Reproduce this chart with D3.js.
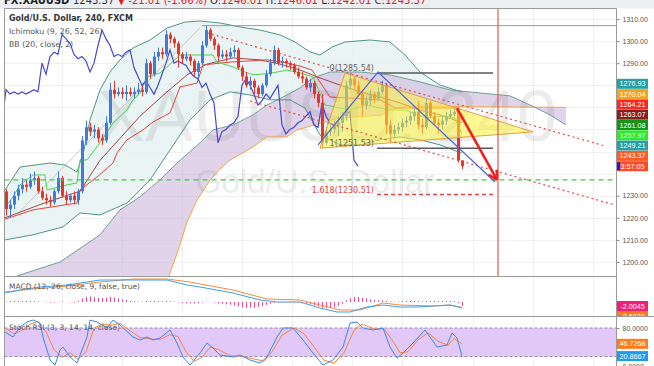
<!DOCTYPE html>
<html><head><meta charset="utf-8">
<script src="https://cdn.jsdelivr.net/npm/d3@7"></script>
<style>body{margin:0;background:#fff;}svg{display:block;}</style>
</head><body><svg id="c" width="654" height="366"></svg>
<script>
// ---------- DATA ----------
const opens=[1232,1224,1226,1230,1233,1235,1234,1237,1238,1232,
1229,1228,1227,1232,1238,1230,1228,1230,1228,1232,
1255,1261,1259,1260,1256,1255,1263,1278,1276,1277,
1276,1277,1276,1277,1278,1277,1290,1285,1293,1295,
1294,1303,1301,1299,1294,1292,1293,1291,1286,1290,
1298,1305,1301,1298,1293,1294,1293,1295,1296,1288,
1284,1280,1282,1279,1276,1280,1285,1290,1296,1290,
1291,1290,1289,1286,1284,1283,1279,1281,1276,1272,
1254,1259,1260,1262,1263,1266,1280,1283,1280,1276,
1271,1273,1276,1274,1277,1280,1262,1258,1260,1261,
1263,1264,1266,1268,1262,1261,1272,1266,1263,1262,
1264,1266,1267,1268,1246.01];
const highs=[1233,1228,1232,1235,1238,1237,1240,1241,1239,1234,
1231,1230,1233,1241,1239,1232,1231,1232,1233,1257,
1264,1263,1262,1261,1258,1266,1281,1282,1279,1279,
1280,1279,1279,1281,1280,1292,1291,1295,1297,1297,
1305,1304,1302,1300,1295,1295,1294,1292,1291,1300,
1307,1306,1302,1299,1296,1296,1297,1298,1297,1289,
1286,1284,1283,1280,1281,1287,1292,1298,1297,1293,
1292,1291,1290,1288,1286,1284,1283,1282,1277,1276,
1261,1263,1264,1266,1268,1282,1285.5,1284,1282,1277,
1275,1278,1277,1279,1282,1281,1264,1262,1263,1265,
1266,1268,1270,1273,1265,1274,1273,1268,1265,1266,
1268,1269,1270,1270,1246.01];
const lows=[1221,1220,1224,1228,1231,1232,1233,1235,1231,1228,
1226,1225,1226,1231,1229,1226,1227,1226,1226,1231,
1253,1257,1256,1254,1253,1254,1262,1274,1275,1274,
1273,1275,1274,1276,1275,1276,1283,1284,1291,1292,
1293,1299,1297,1288,1290,1291,1289,1284,1283,1289,
1297,1300,1296,1291,1292,1291,1292,1293,1287,1282,
1279,1278,1276,1274,1275,1279,1284,1289,1289,1288,
1288,1287,1285,1283,1281,1278,1277,1274,1270,1251.5,
1253,1257,1258,1257,1259,1264,1278,1278,1275,1266,
1269,1271,1272,1273,1276,1258,1255,1256,1258,1259,
1261,1262,1264,1260,1258,1260,1265,1262,1258,1260,
1262,1265,1266,1245,1242.01];
const closes=[1224,1226,1230,1233,1235,1234,1237,1238,1232,1229,
1228,1227,1232,1238,1230,1228,1230,1228,1232,1255,
1261,1259,1260,1256,1255,1263,1278,1276,1277,1276,
1277,1276,1277,1278,1277,1290,1285,1293,1295,1294,
1303,1301,1299,1294,1292,1293,1291,1286,1290,1298,
1305,1301,1298,1293,1294,1293,1295,1296,1288,1284,
1280,1282,1279,1276,1280,1285,1290,1296,1290,1291,
1290,1289,1286,1284,1283,1279,1281,1276,1272,1254,
1259,1260,1262,1263,1266,1280,1283,1280,1276,1271,
1273,1276,1274,1277,1280,1262,1258,1260,1261,1263,
1264,1266,1268,1262,1261,1272,1266,1263,1262,1264,
1266,1267,1268,1246,1243.37];

// indicator lines: [bar, value]
const tenkan=[[-0.75,1223.6],[1.75,1229.5],[3.5,1234.9],[6.75,1239.4],[9.75,1239.4],[10.25,1232.6],[15.25,1234.9],[17.75,1235.8],[18.5,1246.2],[20.25,1246.2],[23.5,1253.9],[26.75,1262.9],[30.25,1268.8],[31.75,1273.4],[33.5,1276.5],[35.25,1283.8],[38.5,1285.6],[40.25,1288.3],[43.5,1293.7],[51.75,1293.7],[52.75,1290.5],[56.75,1288.3],[59.75,1286],[61.75,1284.7],[66.75,1285.6],[70.25,1286.9],[73.5,1285.6],[76.75,1283.8],[79.75,1271.1],[86,1268.8],[90,1271.1],[96,1268.8],[99.75,1268.8],[105,1265.2],[109.75,1266.1],[112.25,1265.2],[114,1257.97]];
const kijun=[[-0.75,1219.1],[6.75,1223.6],[17.75,1226.7],[18.5,1232.6],[22.75,1238.5],[26.75,1244.8],[27.75,1249.4],[30.25,1255.3],[34.25,1259.8],[36.75,1263.4],[41,1267.5],[43.5,1279.2],[47.75,1281],[49.25,1289.2],[56,1290.5],[65.25,1291.5],[70.25,1290.1],[73.5,1288.7],[76.5,1286.9],[81,1274.7],[93.5,1273.4],[97.25,1269.7],[112.25,1269.7],[114,1264.21]];
const spanA=[[2.75,1193.7],[13.5,1200],[23.5,1212.3],[28.5,1223.6],[33.5,1229.5],[38.5,1237.2],[42.75,1244.8],[48.5,1253.9],[51.75,1259.8],[56.75,1262],[61.75,1266.6],[65.25,1271.1],[70.25,1275.6],[73.5,1278.8],[76.75,1283.3],[81,1286],[88.5,1286],[96,1284.7],[103.5,1281.5],[111,1277.9],[118.5,1276.5],[126,1275.2],[131,1271.1],[136,1266.6],[140,1262]];
const spanB=[[2.75,1170],[38,1180],[43,1205],[45.25,1218],[47.75,1228],[51,1237],[53.5,1242],[56,1246.2],[59.25,1249.4],[61.75,1252.1],[65.25,1256.6],[70.25,1256.6],[72.75,1259.8],[75.25,1261.1],[78.5,1262.9],[83.5,1265.2],[94,1266.5],[96,1269],[100,1270.5],[140,1270]];
const bbUpper=[[-0.25,1232.6],[3.5,1243],[11,1244.8],[14.75,1243.9],[17.75,1240.8],[19.5,1250.7],[21,1264.3],[23.5,1277.9],[26,1286],[28.5,1291.5],[31.75,1296.9],[36,1300.5],[40.25,1305.9],[44.75,1308.6],[48.5,1309.1],[53.5,1308.2],[58.5,1306.4],[63.5,1305],[68.5,1302.8],[72.25,1299.6],[76,1295.1],[78.5,1293.7],[81.5,1297.3],[84.75,1299.6],[91,1300.5],[96,1299.6],[99.75,1293.7],[103.5,1286],[108.5,1280.1],[114,1276.93]];
const bbLower=[[-0.25,1210],[6.75,1212.3],[14.25,1215.9],[18.5,1222.2],[23.5,1221.3],[30.25,1226.7],[36,1237.2],[41,1250.7],[46,1264.3],[51,1273.4],[56,1277],[61,1275.6],[66,1273.4],[71,1273.4],[74.75,1269.7],[78.5,1257.5],[83.5,1253],[88.5,1253],[93.5,1255.3],[98.5,1256.6],[103.5,1255.3],[108.5,1253],[114,1249.21]];
const bbBasis=[[-0.25,1220],[8.5,1226],[15,1230],[18.5,1232],[23.5,1246],[28.5,1256],[33.5,1266],[40.25,1277],[45.25,1284.7],[50.25,1289.6],[56.75,1292.4],[63.5,1291.5],[68.5,1289.6],[73.5,1286.9],[78.5,1283.3],[83.5,1280.1],[88.5,1277],[93.5,1274.7],[98.5,1272],[103.5,1268.8],[108.5,1266.6],[114,1263.07]];

// MACD
const macdLine=[[-0.25,4.5],[3.5,6],[8.5,7.5],[15.25,8.5],[23.5,11],[31.75,11],[40.25,11],[45.25,8.5],[48.5,7.5],[56.75,4.5],[63.5,1],[67.75,0],[73.5,0],[78.5,-3],[82.75,-5],[86,-5],[90.25,-2.5],[94.25,-1.5],[98.5,-2.5],[102.75,-2.5],[106.75,-2],[111,-1.5],[114,-3]];
const macdSignal=[[-0.25,5],[6.75,6.5],[15.25,8],[23.5,10],[31.75,11.5],[40.25,11.5],[46,10],[48.5,9],[56.75,6],[65.25,1.5],[73.5,1],[78.5,-1.5],[83.5,-4],[88.5,-4],[94.25,-0.5],[98.5,-1.5],[106.75,-2],[111,-1.5],[114,-2.7]];
const macdHist=[0.3,0.4,0.5,0.5,0.6,0.5,0.4,0.4,0.3,
0.1,-0.2,-0.3,-0.3,0.2,0.3,-0.1,-0.2,-0.3,
0.6,1.8,2.6,2.8,2.5,2.2,2.0,2.2,2.6,2.3,1.8,1.4,1.0,
0.6,0.4,0.3,0.2,0.6,0.5,0.5,0.4,0.3,0.5,0.4,0.2,
-0.2,-0.4,-0.5,-0.6,-0.8,-0.6,-0.3,0.2,0.1,-0.3,-0.6,-0.9,-1.1,-1.3,
-1.8,-2.2,-2.6,-2.9,-2.8,-2.9,-2.6,-2.0,-1.4,-0.8,
-0.4,-0.3,-0.2,-0.2,-0.3,-0.4,-0.5,-0.6,-0.8,
-1.2,-1.6,-2.2,-3.0,-3.2,-3.0,-2.6,-2.0,
-0.8,0.8,1.8,2.4,2.5,2.2,1.8,1.4,1.0,
0.8,0.8,0.6,0.3,0.2,0.3,0.4,0.5,0.6,0.6,0.4,0.3,
0.5,0.6,0.5,0.4,0.5,0.6,0.5,0.4,-0.6,-2.0];

// Stoch RSI
const stochK=[[-0.25,71.6],[1.75,61],[3.5,82],[5.25,92.6],[6.75,96.8],[8.5,90.5],[9.25,61],[11,12.6],[12.25,2],[13.5,33.7],[14.25,40],[16,18.9],[17.75,6.3],[20.25,61],[21,96.8],[22.75,92.6],[25.25,80],[26.75,96.8],[28.5,86.3],[31.75,61],[33.5,54.7],[35.25,61],[36.75,54.7],[38.5,58.9],[41,75.8],[42.75,48.4],[44.25,18.9],[46,2],[48.5,27.4],[50.25,48.4],[51.75,37.9],[53.5,23.2],[56.75,18.9],[58.5,23.2],[61,12.6],[63.5,6.3],[65.25,18.9],[67.75,61],[69.25,80],[71.75,80],[74.25,54.7],[76.75,27.4],[79.25,2],[81.75,12.6],[84.25,40],[86,90.5],[87.75,92.6],[89.25,80],[91.75,75.8],[94.25,80],[96,40],[97.75,16.8],[99.25,27.4],[101.75,48.4],[104.75,75.8],[107.75,40],[110.25,44.2],[111.5,69.5],[112.75,58.9],[114,20.8667]];
const stochD=[[-0.25,80],[2,68],[4,75],[6,88],[8,94],[10,72],[12,35],[14,18],[16,28],[18,14],[20,30],[22,80],[24,88],[26.5,86],[28.5,90],[31,74],[33.5,60],[36,57],[38.5,56],[41,66],[43,62],[45,30],[47,10],[49,18],[51,40],[53,35],[56,22],[59,20],[62,15],[64.5,10],[66.5,30],[69,65],[72,80],[74.5,68],[77,40],[79.5,12],[82,6],[84.5,28],[87,75],[89,88],[92,78],[94.5,78],[96.5,55],[98.5,28],[100.5,30],[103,55],[105.5,70],[108,52],[110.5,44],[112,58],[114,46.7268]];

// axis ticks & labels
const priceTicks=[1200,1210,1220,1230,1240,1250,1260,1270,1280,1290,1300,1310];
const gridBars=[14,29,44,59,71.5,86.5,99,116.75,131.75,146.75];
const priceTagValues=[1276.93,1270.04,1264.21,1263.07,1261.08,1257.97,1249.21,1243.37];
const priceTagColors=["#26a0a4","#f5a21f","#ff2424","#8c1c1c","#15941a","#2bea2b","#26a0a4","#ff5a26"];
const countdownText="3:57:05";
const macdTags=[-2.0045,-2.6830], macdTagColors=["#f0207a","#ff7a1a"];
const stochTags=[46.7268,20.8667], stochTagColors=["#ff7a1a","#1e9af0"];

// drawings (bar, price)
const peakLine=[[49,1307],[152.5,1307]];
const upperTrend=[[50.25,1303.7],[149.75,1252.5]];
const lowerTrend=[[61,1272.9],[152.25,1225.8]];
const triangle=[[84.75,1285.54],[78.5,1251.53],[131.75,1258.9]];
const fibLevels=[{label:"0(1285.54)",v:1285.54},{label:"1(1251.53)",v:1251.53},{label:"1.618(1230.51)",v:1230.51}];
const fibRange=[92.75,121.75];
const greenLevel=1237.2;
const blueZigzag=[[78,1253],[93,1286],[122.25,1236.2]];
const redArrow=[[112.75,1269.7],[122.75,1237.2]];
const cursorBar=123;
const faintDiag=[[3,1222],[48.5,1306]];

// ---------- DRAW ----------
const svg=d3.select("#c");
const L=4.5,R=616.5,T=8.5,MB=276.5,MCB=316.5,B=366;
const x=d3.scaleLinear().domain([0,152.5]).range([6,616]);
const y=d3.scaleLinear().domain([1200,1310]).range([262,19]);
const ym=d3.scaleLinear().domain([-7,12.5]).range([316,277]);
const ys=d3.scaleLinear().domain([0,100]).range([366,318.5]);
const FONT='"DejaVu Sans", sans-serif';

svg.append("rect").attr("width",654).attr("height",366).attr("fill","#fff");
svg.append("rect").attr("width",654).attr("height",T).attr("fill","#eceff2");

const defs=svg.append("defs");
defs.append("clipPath").attr("id","cm").append("rect").attr("x",L).attr("y",T).attr("width",R-L).attr("height",MB-T);
defs.append("clipPath").attr("id","cmacd").append("rect").attr("x",L).attr("y",MB).attr("width",R-L).attr("height",MCB-MB);
defs.append("clipPath").attr("id","cst").append("rect").attr("x",L).attr("y",MCB).attr("width",R-L).attr("height",B-MCB);
defs.append("clipPath").attr("id","ctm").append("rect").attr("x",R).attr("y",MB).attr("width",654-R).attr("height",MCB-MB);

// grid
const grid=svg.append("g").attr("stroke","#eef0f2").attr("stroke-width",1);
priceTicks.forEach(p=>grid.append("line").attr("x1",L).attr("x2",R).attr("y1",Math.round(y(p))+0.5).attr("y2",Math.round(y(p))+0.5));
gridBars.forEach(b=>grid.append("line").attr("x1",Math.round(x(b))+0.5).attr("x2",Math.round(x(b))+0.5).attr("y1",T).attr("y2",B));

const main=svg.append("g").attr("clip-path","url(#cm)");
const ln=(ys_)=>d3.line().x(d=>x(d[0])).y(d=>ys_(d[1]));
const lm=ln(y);

// BB fill
main.append("path").attr("d",lm(bbUpper.concat(bbLower.slice().reverse()))+"Z").attr("fill","#e6f2f2").attr("opacity",0.85);
// cloud fill
main.append("path").attr("d",lm(spanA.concat(spanB.slice().reverse()))+"Z").attr("fill","#cdb8dc").attr("opacity",0.6);

// watermark
main.append("text").attr("x",327).attr("y",141).attr("text-anchor","middle").attr("font-family",'"Liberation Sans", sans-serif')
  .attr("font-size",72).attr("fill","#000").attr("opacity",0.07).text("XAUUSD, 240");
main.append("text").attr("x",315).attr("y",193).attr("text-anchor","middle").attr("font-family",'"Liberation Sans", sans-serif')
  .attr("font-size",33).attr("fill","#000").attr("opacity",0.07).text("Gold/U.S. Dollar");

// indicator lines
const addLine=(g,data,gen,color,w,extra)=>{const p=g.append("path").attr("d",gen(data)).attr("fill","none").attr("stroke",color).attr("stroke-width",w);if(extra)extra(p);return p;};
addLine(main,faintDiag,lm,"#bbbbbb",0.8);
addLine(main,spanB,lm,"#f2a54a",1);
addLine(main,spanA,lm,"#6f9f95",1);
addLine(main,bbUpper,lm,"#4f9488",1);
addLine(main,bbLower,lm,"#4f9488",1);
addLine(main,bbBasis,lm,"#a04848",1);
addLine(main,kijun,lm,"#e8403a",1);
addLine(main,tenkan,lm,"#4fd24f",1);
const chikou=closes.map((c,i)=>[i-26,c]).filter(d=>d[0]>=-2);
addLine(main,chikou,lm,"#4848d0",1.2);

// candles
const up="#3f7bd8",dn="#e8352b";
closes.forEach((c,i)=>{
  const o=opens[i],col=c>=o?up:dn,cx=Math.round(x(i))+0.5;
  main.append("line").attr("x1",cx).attr("x2",cx).attr("y1",y(highs[i])).attr("y2",y(lows[i])).attr("stroke",col).attr("stroke-width",1);
  const t=y(Math.max(o,c)),b=y(Math.min(o,c));
  main.append("rect").attr("x",cx-1.5).attr("y",t).attr("width",3).attr("height",Math.max(1,b-t)).attr("fill",col);
});

// drawings
main.append("path").attr("d",lm(triangle)+"Z").attr("fill","#fff23a").attr("fill-opacity",0.55).attr("stroke","#e3a048").attr("stroke-width",1);
addLine(main,peakLine,lm,"#9a9a9a",1);
addLine(main,upperTrend,lm,"#e84a4a",1.2,p=>p.attr("stroke-dasharray","2,3"));
addLine(main,lowerTrend,lm,"#e84a4a",1.2,p=>p.attr("stroke-dasharray","2,3"));
main.append("line").attr("x1",L).attr("x2",R).attr("y1",y(greenLevel)).attr("y2",y(greenLevel)).attr("stroke","#3ccf3c").attr("stroke-width",1.3).attr("stroke-dasharray","5,4");
fibLevels.forEach((f,k)=>{
  const red=k===2;
  main.append("line").attr("x1",x(fibRange[0])).attr("x2",x(fibRange[1])).attr("y1",y(f.v)).attr("y2",y(f.v))
    .attr("stroke",red?"#e04848":"#5a5a5a").attr("stroke-width",1.5).attr("stroke-dasharray",red?"4,3":null);
  main.append("text").attr("x",x(fibRange[0])-3).attr("y",y(f.v)-2).attr("text-anchor","end").attr("font-family",FONT).attr("font-size",8)
    .attr("fill",red?"#e04848":"#666").text(f.label);
});
addLine(main,blueZigzag,lm,"#4a64dc",1.2);
main.append("line").attr("x1",x(cursorBar)).attr("x2",x(cursorBar)).attr("y1",T).attr("y2",MB).attr("stroke","#e05858").attr("stroke-width",1.2);
// red arrow
const a0=redArrow[0],a1=redArrow[1];
const ax0=x(a0[0]),ay0=y(a0[1]),ax1=x(a1[0]),ay1=y(a1[1]);
main.append("line").attr("x1",ax0).attr("y1",ay0).attr("x2",ax1).attr("y2",ay1).attr("stroke","#ef2020").attr("stroke-width",2.6);
const ang=Math.atan2(ay1-ay0,ax1-ax0),hl=10;
[-0.5,0.5].forEach(s=>main.append("line").attr("x1",ax1).attr("y1",ay1)
  .attr("x2",ax1-hl*Math.cos(ang+s)).attr("y2",ay1-hl*Math.sin(ang+s)).attr("stroke","#ef2020").attr("stroke-width",2.6));

// MACD panel
const mg=svg.append("g").attr("clip-path","url(#cmacd)");
const lmm=ln(ym);
macdHist.forEach((v,i)=>mg.append("line").attr("x1",Math.round(x(i))+0.5).attr("x2",Math.round(x(i))+0.5)
  .attr("y1",ym(0)).attr("y2",ym(v)).attr("stroke","#ee4f86").attr("stroke-width",1));
addLine(mg,macdSignal,lmm,"#f58a3c",1);
addLine(mg,macdLine,lmm,"#3aa0ee",1);

// Stoch panel
const sg=svg.append("g").attr("clip-path","url(#cst)");
sg.append("rect").attr("x",L).attr("width",R-L).attr("y",ys(80)).attr("height",ys(20)-ys(80)).attr("fill","#e2c8f9");
[80,20].forEach(v=>sg.append("line").attr("x1",L).attr("x2",R).attr("y1",ys(v)).attr("y2",ys(v)).attr("stroke","#9b8aa6").attr("stroke-dasharray","3,2"));
const lss=ln(ys);
addLine(sg,stochD,lss,"#f5853c",1);
addLine(sg,stochK,lss,"#3e86f0",1);

// frames
const fr=svg.append("g").attr("stroke","#9a9a9a").attr("stroke-width",1).attr("fill","none");
fr.append("line").attr("x1",L).attr("x2",R).attr("y1",T).attr("y2",T);
fr.append("line").attr("x1",L).attr("x2",R).attr("y1",MB).attr("y2",MB);
fr.append("line").attr("x1",L).attr("x2",R).attr("y1",MCB).attr("y2",MCB);
fr.append("line").attr("x1",L).attr("x2",L).attr("y1",T).attr("y2",B);
fr.append("line").attr("x1",R).attr("x2",R).attr("y1",T).attr("y2",B);

// tag positions (stacked above the close label)
const closeY=y(closes[closes.length-1]);
const n=priceTagValues.length;
const tagCenters=priceTagValues.map((v,k)=>closeY-10.3-(n-1-k)*10.3).concat([closeY]);
const covered=v=>tagCenters.some(c=>Math.abs(y(v)-c)<9);

// axes
const axFont='"Liberation Sans", sans-serif';
const yAx=svg.append("g").attr("transform",`translate(${R},0)`).call(d3.axisRight(y).tickValues(priceTicks.filter(p=>!covered(p))).tickFormat(d=>d.toFixed(2)).tickSize(3));
const sAx=svg.append("g").attr("transform",`translate(${R},0)`).call(d3.axisRight(ys).tickValues([0,80]).tickFormat(d=>d.toFixed(4)).tickSize(3));
[yAx,sAx].forEach(g=>{g.select(".domain").remove();g.selectAll("line").attr("stroke","#888");
  g.selectAll("text").attr("font-family",axFont).attr("font-size",7).attr("fill","#555").attr("x",6);});

// tags
const tag=(parent,cy,txt,col)=>{parent.append("rect").attr("x",R+0.5).attr("y",cy-5).attr("width",31).attr("height",10).attr("fill",col);
  parent.append("text").attr("x",R+16).attr("y",cy+2.6).attr("text-anchor","middle").attr("font-family",axFont).attr("font-size",7.2).attr("fill","#fff").text(txt);};
priceTagValues.forEach((v,k)=>tag(svg,tagCenters[k],v.toFixed(2),priceTagColors[k]));
tag(svg,closeY,countdownText,"#ff4a26");
svg.append("rect").attr("x",R+0.5).attr("y",closeY-4).attr("width",3).attr("height",8).attr("fill","#1020e0");
const mt=svg.append("g").attr("clip-path","url(#ctm)");
tag(mt,ym(macdTags[0])+10,macdTags[1].toFixed(4),macdTagColors[1]);
tag(mt,ym(macdTags[0]),macdTags[0].toFixed(4),macdTagColors[0]);
stochTags.forEach((v,k)=>tag(svg,ys(v),v.toFixed(4),stochTagColors[k]));
svg.append("line").attr("x1",R).attr("x2",654).attr("y1",MCB).attr("y2",MCB).attr("stroke","#9a9a9a");

// legends
const lg=(tx,yy,size,col,weight)=>svg.append("text").attr("x",9).attr("y",yy).attr("font-family",FONT).attr("font-size",size).attr("fill",col).attr("font-weight",weight||"normal").text(tx);
lg("Gold/U.S. Dollar, 240, FXCM",21,8,"#333","bold");
lg("Ichimoku (9, 26, 52, 26)",34,7.8,"#555");
lg("BB (20, close, 2)",47,7.8,"#555");
lg("MACD (12, 26, close, 9, false, true)",289,7.5,"#555");
lg("Stoch RSI (3, 3, 14, 14, close)",330,7.5,"#555");

// header (mostly cut off at top)
const hd=svg.append("text").attr("x",4).attr("y",4).attr("font-family",FONT).attr("font-size",10);
hd.append("tspan").attr("font-weight","bold").attr("fill","#222").text("FX:XAUUSD ");
hd.append("tspan").attr("fill","#333").text("1243.37 ");
hd.append("tspan").attr("fill","#e02020").text("▼ -21.01 (-1.66%) ");
hd.append("tspan").attr("fill","#333").text("O:");hd.append("tspan").attr("fill","#e02020").text("1246.01 ");
hd.append("tspan").attr("fill","#333").text("H:");hd.append("tspan").attr("fill","#e02020").text("1246.01 ");
hd.append("tspan").attr("fill","#333").text("L:");hd.append("tspan").attr("fill","#e02020").text("1242.01 ");
hd.append("tspan").attr("fill","#333").text("C:");hd.append("tspan").attr("fill","#e02020").text("1243.37");
</script></body></html>
